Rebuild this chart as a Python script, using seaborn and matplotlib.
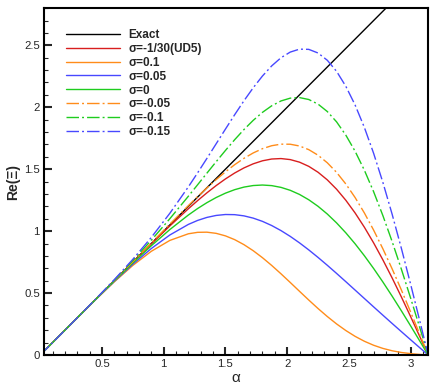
import numpy as np
import pandas as pd
import matplotlib
matplotlib.use('Agg')
import matplotlib.pyplot as plt
import seaborn as sns
from matplotlib.ticker import MultipleLocator

# values
alpha = [0.0, 0.15, 0.3, 0.45, 0.6, 0.75, 0.9, 1.05, 1.2, 1.275, 1.35, 1.425,
         1.5, 1.575, 1.65, 1.725, 1.8, 1.875, 1.95, 2.025, 2.1, 2.175, 2.25,
         2.325, 2.4, 2.475, 2.55, 2.625, 2.7, 2.775, 2.85, 2.925, 3.0, 3.075,
         3.1416]

re_ud5 = [0.0, 0.150, 0.300, 0.4500, 0.5998, 0.7491, 0.8971, 1.0419, 1.1807,
          1.2465, 1.3091, 1.3677, 1.4213, 1.4692, 1.5103, 1.5434, 1.5678, 1.5822,
          1.5858, 1.5775, 1.5568, 1.5229, 1.4754, 1.4139, 1.3385, 1.2492, 1.1469,
          1.0319, 0.9052, 0.7681, 0.6220, 0.4684, 0.3092, 0.1463, 0.0]
re_p010 = [0.0, 0.150, 0.2997, 0.4477, 0.5906, 0.7230, 0.8373, 0.9251, 0.9786,
           0.9904, 0.9916, 0.9822, 0.9619, 0.9314, 0.8910, 0.8421, 0.7856, 0.7229,
           0.6556, 0.5856, 0.5143, 0.4437, 0.3753, 0.3107, 0.2511, 0.1977, 0.1508,
           0.1112, 0.0788, 0.0534, 0.0343, 0.0206, 0.0112, 0.0046, 0.0]
re_p005 = [0.0, 0.150, 0.2998, 0.4485, 0.5941, 0.7328, 0.8597, 0.9689, 1.0543,
           1.0865, 1.1107, 1.1267, 1.1342, 1.1330, 1.1233, 1.1051, 1.0789, 1.0451,
           1.0044, 0.9576, 0.9053, 0.8484, 0.7878, 0.7244, 0.6589, 0.5920, 0.5243,
           0.4565, 0.3887, 0.3215, 0.2547, 0.1886, 0.1230, 0.0577, 0.0]
re_000 = [0.0, 0.150, 0.2999, 0.4494, 0.5975, 0.7426, 0.8821, 1.0127, 1.1301,
          1.1825, 1.2297, 1.2713, 1.3065, 1.3347, 1.3555, 1.3681, 1.3722, 1.3674,
          1.3532, 1.3295, 1.2962, 1.2531, 1.2004, 1.1381, 1.0666, 0.9863, 0.8979,
          0.8017, 0.6986, 0.5895, 0.4751, 0.3565, 0.2347, 0.1109, 0.0]
re_m005 = [0.0, 0.150, 0.3000, 0.4503, 0.6010, 0.7524, 0.9046, 1.0565, 1.2059,
           1.2785, 1.3488, 1.4158, 1.4787, 1.5364, 1.5877, 1.6311, 1.6656, 1.6896,
           1.7021, 1.7015, 1.6872, 1.6578, 1.6129, 1.5518, 1.4744, 1.3806, 1.2714,
           1.1470, 1.0085, 0.8575, 0.6955, 0.5244, 0.3465, 0.1640, 0.0]
re_m010 = [0.0, 0.150, 0.3001, 0.4511, 0.6044, 0.7622, 0.9270, 1.1003, 1.2817,
           1.3746, 1.4678, 1.5604, 1.6510, 1.7381, 1.8199, 1.8941, 1.9589, 2.0119,
           2.0509, 2.0735, 2.0781, 2.0625, 2.0254, 1.9655, 1.8822, 1.7749, 1.6450,
           1.4922, 1.3184, 1.1255, 0.9158, 0.6923, 0.4583, 0.2171, 0.0]
re_m015 = [0.0, 0.150, 0.3003, 0.4520, 0.6078, 0.7721, 0.9494, 1.1441, 1.3575,
           1.4706, 1.5869, 1.7050, 1.8233, 1.9398, 2.0521, 2.1571, 2.2522, 2.3341,
           2.3997, 2.4454, 2.4691, 2.4672, 2.4379, 2.3792, 2.2900, 2.1692, 2.0185,
           1.8375, 1.6283, 1.3935, 1.1362, 0.8603, 0.5700, 0.2702, 0.0]

exact_alpha = [0.0, 2.8]

labels = ['σ=-1/30(UD5)', 'σ=0.1', 'σ=0.05', 'σ=0',
          'σ=-0.05', 'σ=-0.1', 'σ=-0.15']
series = [re_ud5, re_p010, re_p005, re_000, re_m005, re_m010, re_m015]
colors = ['#d81e1e', '#ff8c1a', '#4848ff', '#1ecc1e',
          '#ff8c1a', '#1ecc1e', '#4848ff']
solid = [True, True, True, True, False, False, False]

sns.set_style('white')
plt.rcParams['font.family'] = ['Liberation Sans', 'DejaVu Sans']

fig = plt.figure(figsize=(4.36, 3.88), dpi=100)
ax = fig.add_axes([0.101, 0.085, 0.881, 0.894])

sns.lineplot(x=exact_alpha, y=exact_alpha, ax=ax, color='black', lw=1.0,
             label='Exact')
for lab, vals, c, s in zip(labels, series, colors, solid):
    df = pd.DataFrame({'alpha': alpha, 're': vals})
    sns.lineplot(data=df, x='alpha', y='re', ax=ax, color=c, lw=1.0,
                 label=lab, sort=False)
    if not s:
        ax.lines[-1].set_dashes((9, 2.2, 1.4, 2.2))

ax.set_xlim(0.0314, np.pi)
ax.set_ylim(0, 2.8)
ax.xaxis.set_major_locator(MultipleLocator(0.5))
ax.xaxis.set_minor_locator(MultipleLocator(0.1))
ax.yaxis.set_major_locator(MultipleLocator(0.5))
ax.yaxis.set_minor_locator(MultipleLocator(0.1))
ax.xaxis.set_major_formatter(plt.FuncFormatter(lambda v, p: f'{v:g}'))
ax.yaxis.set_major_formatter(plt.FuncFormatter(lambda v, p: f'{v:g}'))
ax.tick_params(which='major', direction='in', length=6, width=1.5,
               labelsize=8.2, pad=3, bottom=True, left=True, top=False, right=False)
ax.tick_params(which='minor', direction='in', length=3, width=0.8,
               bottom=True, left=True, top=False, right=False)
for sp in ax.spines.values():
    sp.set_linewidth(1.5)
    sp.set_color('black')

ax.set_xlabel('α', fontsize=11, labelpad=1)
ax.set_ylabel('Re(Ξ)', fontsize=10, fontweight='bold', labelpad=3)

leg = ax.legend(loc='upper left', bbox_to_anchor=(0.057, 0.94), frameon=False,
                borderpad=0, borderaxespad=0,
                handlelength=4.6, handletextpad=0.7, labelspacing=0.16,
                prop={'weight': 'bold', 'size': 8.5})

fig.savefig('out.png', dpi=100)
plt.close()
